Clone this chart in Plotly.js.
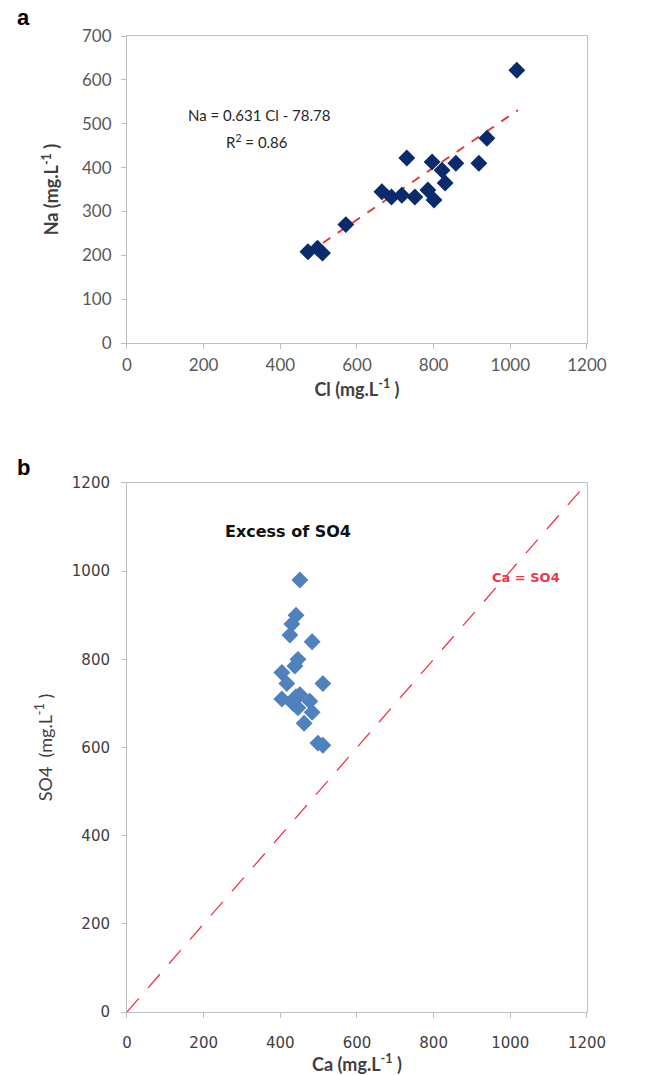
<!DOCTYPE html>
<html><head><meta charset="utf-8">
<script src="https://cdn.plot.ly/plotly-3.0.1.min.js"></script>
<style>html,body{margin:0;padding:0;background:#fff}</style>
</head><body><div id="chart" style="width:659px;height:1075px"></div>
<script>
// Panel a: Na vs Cl
var clValues = [472, 497, 510, 571, 665, 690, 717, 730, 751, 785, 796, 801, 822, 830, 858, 918, 939, 1017];
var naValues = [208, 216, 205, 270, 345, 333, 337, 422, 333, 349, 413, 326, 394, 365, 410, 410, 467, 622];
var trendCl = [472, 1020];
var trendNa = [205, 531];
// Panel b: SO4 vs Ca
var caValues = [451, 441, 430, 425, 483, 446, 438, 404, 417, 511, 404, 441, 451, 433, 477, 446, 483, 462, 498, 511];
var so4Values = [980, 900, 880, 855, 840, 800, 785, 770, 745, 745, 710, 715, 720, 700, 705, 690, 680, 655, 610, 605];
var equalLineCa = [0, 1200];
var equalLineSO4 = [0, 1200];
var tickVals = [0, 200, 400, 600, 800, 1000, 1200];
var tickValsA = [0, 100, 200, 300, 400, 500, 600, 700];

var axisCommon = {
  showgrid: false, zeroline: false, showline: true, linecolor: '#bfbfbf', linewidth: 1,
  ticks: 'outside', ticklen: 5, tickcolor: '#bfbfbf', mirror: true
};
function ax(extra){ return Object.assign({}, axisCommon, extra); }

var traces = [
  {x: trendCl, y: trendNa, mode: 'lines', xaxis: 'x', yaxis: 'y',
   line: {color: '#e0403a', width: 2, dash: 'dash'}, hoverinfo: 'skip'},
  {x: clValues, y: naValues, mode: 'markers', xaxis: 'x', yaxis: 'y',
   marker: {symbol: 'diamond', size: 13, color: '#0a2a6b'}},
  {x: equalLineCa, y: equalLineSO4, mode: 'lines', xaxis: 'x2', yaxis: 'y2',
   line: {color: '#f0354a', width: 1.3, dash: '18px,14px'}, hoverinfo: 'skip'},
  {x: caValues, y: so4Values, mode: 'markers', xaxis: 'x2', yaxis: 'y2',
   marker: {symbol: 'diamond', size: 13, color: '#4f81bd'}}
];

var fa = {family: 'Lato, "Open Sans", sans-serif', size: 17, color: '#595959'};
var fb = {family: '"DejaVu Sans", sans-serif', size: 15, color: '#404040'};
var titleFont = {family: 'Lato, sans-serif', size: 18, color: '#404040'};

var layout = {
  width: 659, height: 1075, showlegend: false,
  margin: {l: 0, r: 0, t: 0, b: 0},
  paper_bgcolor: '#fff', plot_bgcolor: '#fff',
  xaxis: ax({domain: [0.1927, 0.8907], anchor: 'y', range: [0, 1200], tickvals: tickVals, tickfont: fa,
    ticklabelstandoff: 2,
    title: {text: '<b>Cl (mg.L<sup>-1</sup> )</b>', font: titleFont, standoff: 8}}),
  yaxis: ax({domain: [0.6809, 0.9665], anchor: 'x', range: [0, 700], tickvals: tickValsA, tickfont: fa,
    ticklabelstandoff: 6,
    title: {text: '<b>Na (mg.L<sup>-1</sup> )</b>', font: titleFont, standoff: 18}}),
  xaxis2: ax({domain: [0.1927, 0.8907], anchor: 'y2', range: [0, 1200], tickvals: tickVals, tickfont: fb,
    ticklabelstandoff: 12,
    title: {text: '<b>Ca (mg.L<sup>-1</sup> )</b>', font: titleFont, standoff: 6}}),
  yaxis2: ax({domain: [0.0586, 0.5507], anchor: 'x2', range: [0, 1200], tickvals: tickVals, tickfont: fb,
    ticklabelstandoff: 8,
    title: {text: 'SO4  (mg.L<sup>-1</sup> )', font: titleFont, standoff: 14}}),
  annotations: [
    {xref: 'paper', yref: 'paper', x: 15/659, y: 1 - 18/1075, text: '<b>a</b>', showarrow: false,
     font: {family: 'Liberation Sans, Arial, sans-serif', size: 22, color: '#000'}, xanchor: 'left', yanchor: 'middle'},
    {xref: 'paper', yref: 'paper', x: 15/659, y: 1 - 467/1075, text: '<b>b</b>', showarrow: false,
     font: {family: 'Liberation Sans, Arial, sans-serif', size: 22, color: '#000'}, xanchor: 'left', yanchor: 'middle'},
    {xref: 'x', yref: 'y', x: 345, y: 520, text: 'Na = 0.631 Cl - 78.78', showarrow: false,
     font: {family: 'Lato, sans-serif', size: 15, color: '#262626'}},
    {xref: 'x', yref: 'y', x: 340, y: 460, text: 'R<sup>2</sup> = 0.86', showarrow: false,
     font: {family: 'Lato, sans-serif', size: 15, color: '#262626'}},
    {xref: 'x2', yref: 'y2', x: 420, y: 1090, text: '<b>Excess of SO4</b>', showarrow: false,
     font: {family: '"DejaVu Sans", sans-serif', size: 16, color: '#111'}},
    {xref: 'x2', yref: 'y2', x: 1040, y: 985, text: '<b>Ca = SO4</b>', showarrow: false,
     font: {family: '"DejaVu Sans", sans-serif', size: 13, color: '#f0354a'}}
  ]
};
Plotly.newPlot('chart', traces, layout, {displayModeBar: false, staticPlot: true});
</script></body></html>
